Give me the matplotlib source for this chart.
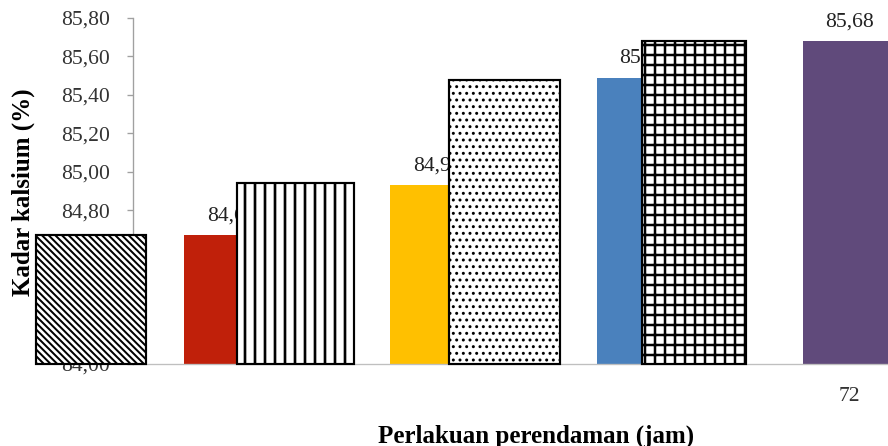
import matplotlib
matplotlib.use("Agg")
import matplotlib.pyplot as plt

# ---- data ----
categories = ["0", "24", "48", "72"]
tick_labels = ["", "", "", "72"]
values = [84.67, 84.93, 85.49, 85.68]
value_labels = ["84,67", "84,93", "85,49", "85,68"]
overlay_tops = [84.67, 84.94, 85.48, 85.68]
yticks = [84.00, 84.20, 84.40, 84.60, 84.80, 85.00, 85.20, 85.40, 85.60, 85.80]

# ---- style / layout ----
bar_colors = ["#C0200A", "#FFC000", "#4A81BD", "#604A7B"]
overlay_hatches = ["\\" * 6, "||", "...", "++"]
overlay_hatch_lw = [1.2, 1.6, 1.0, 1.5]
overlay_left_offset = [-0.947, -0.969, -0.943, -1.009]
overlay_width = [0.535, 0.564, 0.538, 0.505]
bar_width = 0.456

plt.rcParams["font.family"] = ["Liberation Serif", "DejaVu Serif"]

W, H, DPI = 888, 446, 120
fig = plt.figure(figsize=(W / DPI, H / DPI), dpi=DPI)
ax_left, ax_right, ax_bottom, ax_top = 133, 953, 364, 18
ax = fig.add_axes([ax_left / W, 1 - ax_bottom / H,
                   (ax_right - ax_left) / W, (ax_bottom - ax_top) / H])

x = list(range(len(categories)))
ax.bar(x, [v - yticks[0] for v in values], bottom=yticks[0], width=bar_width,
       color=bar_colors, zorder=2, clip_on=False)

for i, (v, lab) in enumerate(zip(values, value_labels)):
    ax.text(i, v + 0.1, lab, ha="center", va="center", fontsize=13,
            color="#222222", zorder=2.6, clip_on=False)

for i, top in enumerate(overlay_tops):
    plt.rcParams["hatch.linewidth"] = overlay_hatch_lw[i]
    bars = ax.bar(i + overlay_left_offset[i], top - yticks[0], bottom=yticks[0],
                  width=overlay_width[i], align="edge", facecolor="white",
                  edgecolor="black", linewidth=1.3, hatch=overlay_hatches[i],
                  zorder=3, clip_on=False)
    for p in bars:
        if hasattr(p, "set_hatch_linewidth"):
            p.set_hatch_linewidth(overlay_hatch_lw[i])

ax.set_xlim(-0.475, 3.5)
ax.set_ylim(yticks[0], yticks[-1])
ax.set_yticks(yticks)
ax.set_yticklabels([f"{t:.2f}".replace(".", ",") for t in yticks])
ax.set_xticks(x)
ax.set_xticklabels(tick_labels)

for s in ["top", "right"]:
    ax.spines[s].set_visible(False)
ax.spines["left"].set_color("#A0A0A0")
ax.spines["bottom"].set_color("#BFBFBF")
ax.tick_params(axis="y", length=3.6, width=0.8, color="#A0A0A0", pad=10,
               labelsize=13, labelcolor="#333333", direction="out")
ax.tick_params(axis="x", length=0, pad=14, labelsize=13, labelcolor="#333333")

fig.text(23 / W, 1 - 192 / H, "Kadar kalsium (%)", rotation=90, ha="center",
         va="center", fontsize=15, fontweight="bold")
fig.text(536 / W, 1 - 436 / H, "Perlakuan perendaman (jam)", ha="center",
         va="center", fontsize=15, fontweight="bold")

fig.savefig("out.png", dpi=DPI)
